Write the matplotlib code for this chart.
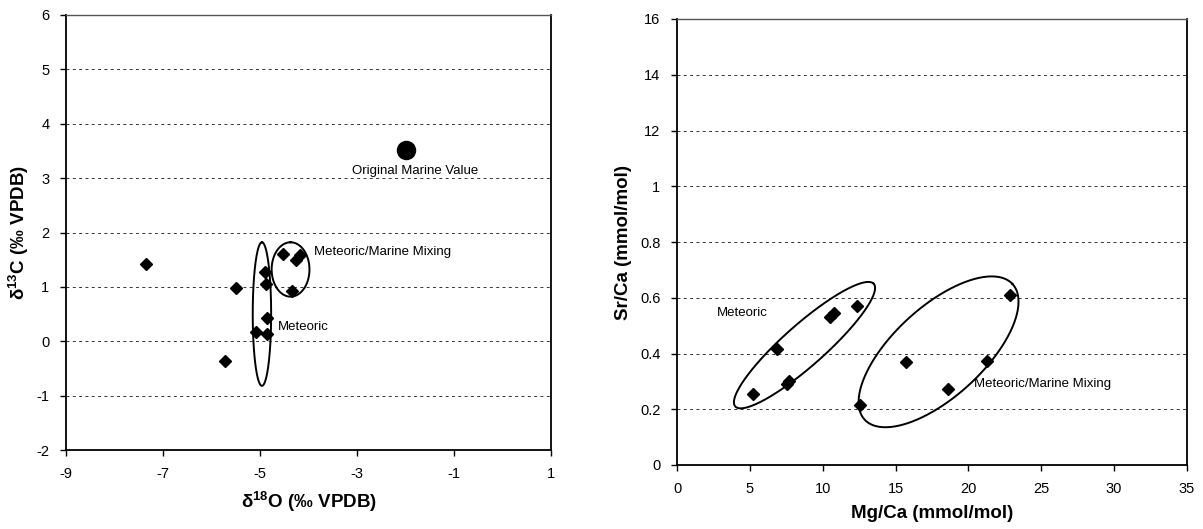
import numpy as np
import matplotlib
matplotlib.use("Agg")
import matplotlib.pyplot as plt

plt.rcParams['font.family'] = ['Liberation Sans', 'DejaVu Sans']
plt.rcParams['axes.unicode_minus'] = False
plt.rcParams['mathtext.fontset'] = 'custom'
plt.rcParams['mathtext.rm'] = 'Liberation Sans'
plt.rcParams['mathtext.bf'] = 'Liberation Sans:bold'

# ---- Left panel data: d18O vs d13C ----
d18o = [-7.35, -5.50, -5.73, -4.90, -4.88, -4.85, -5.09, -4.85, -4.53, -4.26, -4.17, -4.33]
d13c = [1.42, 0.975, -0.36, 1.28, 1.06, 0.43, 0.17, 0.135, 1.61, 1.49, 1.58, 0.92]
marine_d18o = [-2.0]
marine_d13c = [3.52]
left_xticks = [-9, -7, -5, -3, -1, 1]
left_yticks = [-2, -1, 0, 1, 2, 3, 4, 5, 6]

# ---- Right panel data: Mg/Ca vs Sr/Ca ----
mgca = [5.20, 6.89, 7.53, 7.71, 10.51, 10.75, 12.36, 12.57, 15.74, 18.62, 21.26, 22.85]
srca = [0.253, 0.415, 0.291, 0.303, 0.532, 0.544, 0.572, 0.216, 0.368, 0.271, 0.373, 0.610]
right_xticks = [0, 5, 10, 15, 20, 25, 30, 35]
right_yticks = [0, 0.2, 0.4, 0.6, 0.8, 1.0, 1.2, 1.4, 1.6]
right_yticklabels = ["0", "0.2", "0.4", "0.6", "0.8", "1", "12", "14", "16"]

# group ellipses: center, semi-axis vector a, semi-axis vector b (data units)
left_ellipses = [
    ((-4.96, 0.50), (0.0, 1.32), (0.19, 0.0)),
    ((-4.37, 1.32), (0.0, 0.50), (0.39, 0.0)),
]
right_ellipses = [
    ((8.75, 0.43), (4.75, 0.22), (0.95, -0.055)),
    ((17.95, 0.406), (5.07, 0.2435), (2.1, -0.118)),
]


def draw_ellipse(ax, c, a, b):
    t = np.linspace(0, 2 * np.pi, 300)
    x = c[0] + a[0] * np.cos(t) + b[0] * np.sin(t)
    y = c[1] + a[1] * np.cos(t) + b[1] * np.sin(t)
    ax.plot(x, y, color='black', lw=1.4, zorder=3)


def style_axes(ax):
    for s in ['left', 'bottom', 'right']:
        ax.spines[s].set_color('black')
        ax.spines[s].set_linewidth(1.3)
    ax.spines['top'].set_color('#555555')
    ax.spines['top'].set_linewidth(1.0)
    ax.tick_params(direction='out', length=4, width=1, labelsize=10.5,
                   colors='black', top=False, right=False)
    ax.yaxis.grid(True, linestyle=(0, (3, 3.5)), color='#333333', lw=0.7)
    ax.xaxis.grid(False)
    ax.set_axisbelow(True)


fig = plt.figure(figsize=(12.03, 5.29), dpi=100)

# ---------- Left ----------
ax1 = fig.add_axes([66 / 1203, 1 - 450 / 529, 485 / 1203, 435 / 529])
style_axes(ax1)
ax1.set_xlim(-9, 1)
ax1.set_ylim(-2, 6)
ax1.set_xticks(left_xticks)
ax1.set_yticks(left_yticks)
ax1.tick_params(axis='x', pad=8)
ax1.tick_params(axis='y', pad=8)
for c, a, b in left_ellipses:
    draw_ellipse(ax1, c, a, b)
ax1.plot(d18o, d13c, linestyle='none', marker='D', color='black', ms=6.5, zorder=4)
ax1.plot(marine_d18o, marine_d13c, linestyle='none', marker='o', color='black', ms=13, zorder=4)
ax1.text(-1.8, 3.14, "Original Marine Value", fontsize=9.5, ha='center', va='center')
ax1.text(-3.89, 1.64, "Meteoric/Marine Mixing", fontsize=9.5, ha='left', va='center')
ax1.text(-4.64, 0.26, "Meteoric", fontsize=9.5, ha='left', va='center')
ax1.set_xlabel(r"$\mathbf{\delta^{18}O}$ (‰ VPDB)", fontsize=13.5, fontweight='bold', labelpad=7)
ax1.set_ylabel(r"$\mathbf{\delta^{13}C}$ (‰ VPDB)", fontsize=13.5, fontweight='bold', labelpad=4)

# ---------- Right ----------
ax2 = fig.add_axes([677 / 1203, 1 - 465 / 529, 510 / 1203, 446 / 529])
style_axes(ax2)
ax2.set_xlim(0, 35)
ax2.set_ylim(0, 1.6)
ax2.set_xticks(right_xticks)
ax2.set_yticks(right_yticks)
ax2.set_yticklabels(right_yticklabels)
ax2.tick_params(axis='x', pad=8)
ax2.tick_params(axis='y', pad=8)
for c, a, b in right_ellipses:
    draw_ellipse(ax2, c, a, b)
ax2.plot(mgca, srca, linestyle='none', marker='D', color='black', ms=6.5, zorder=4)
ax2.text(2.72, 0.546, "Meteoric", fontsize=9.5, ha='left', va='center')
ax2.text(20.36, 0.291, "Meteoric/Marine Mixing", fontsize=9.5, ha='left', va='center')
ax2.set_xlabel("Mg/Ca (mmol/mol)", fontsize=13.5, fontweight='bold', labelpad=7)
ax2.set_ylabel("Sr/Ca (mmol/mol)", fontsize=13.5, fontweight='bold', labelpad=6)

fig.savefig("out.png", dpi=100)
